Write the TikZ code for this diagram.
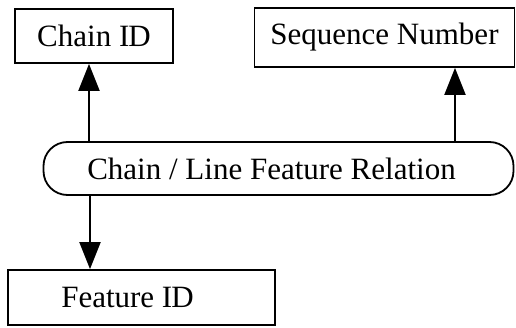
\documentclass[tikz,border=0pt]{standalone}
\usepackage{fontspec}
\setmainfont{Liberation Serif}
\usetikzlibrary{arrows.meta}
\begin{document}
\begin{tikzpicture}[x=1pt,y=1pt,
  box/.style={draw,line width=1.8pt,inner sep=0pt,font=\fontsize{31}{37}\selectfont},
  bubble/.style={draw,line width=1.8pt,rounded corners=24pt,inner sep=0pt,font=\fontsize{31}{37}\selectfont},
  arr/.style={line width=2pt,-{Triangle[length=27pt,width=21pt]}}]
\useasboundingbox (0,0) rectangle (516,327);
\node[box,minimum width=158pt,minimum height=54pt] (cid) at (94,291) {Chain I\kern-1ptD};
\node[box,minimum width=260pt,minimum height=59pt] (seq) at (384.5,289.5) {Sequence Number};
\node[bubble,minimum width=470pt,minimum height=53pt] (rel) at (278.5,158.5) {Chain / Line Feature Relation\hspace*{14pt}};
\node[box,minimum width=267pt,minimum height=55pt] (fid) at (141.5,29.5) {\hspace*{-28pt}Feature I\kern-1ptD};
\coordinate (a1) at (89,0);
\coordinate (a2) at (455,0);
\coordinate (a3) at (90,0);
\draw[arr] (rel.north -| a1) -- (cid.south -| a1);
\draw[arr] (rel.north -| a2) -- (seq.south -| a2);
\draw[arr] (rel.south -| a3) -- (fid.north -| a3);
\end{tikzpicture}
\end{document}
